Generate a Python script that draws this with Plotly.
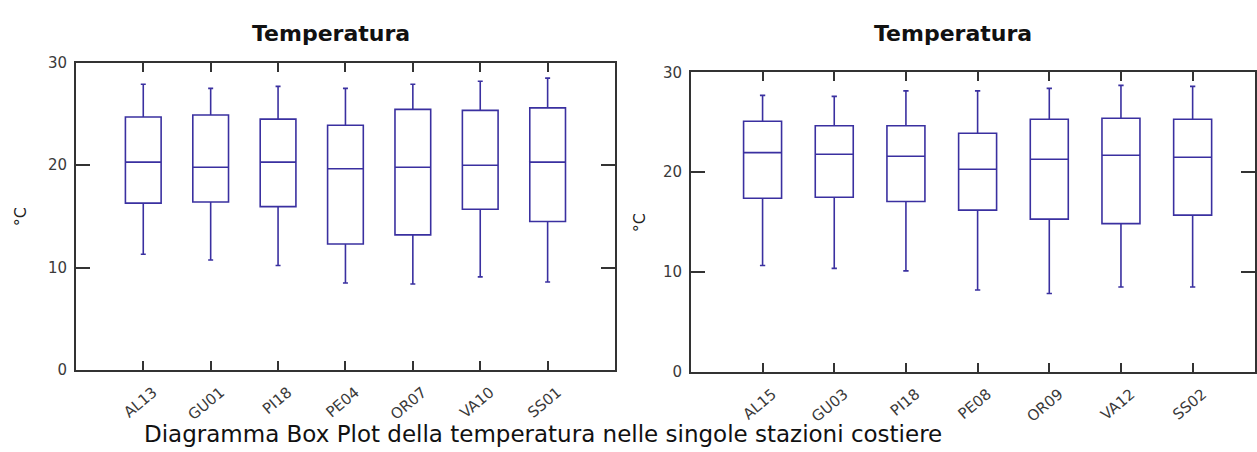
import plotly.graph_objects as go

# ---- data ----
stations_left = ["AL13", "GU01", "PI18", "PE04", "OR07", "VA10", "SS01"]
low_left = [11.3, 10.75, 10.2, 8.5, 8.4, 9.1, 8.6]
q1_left = [16.3, 16.4, 15.95, 12.3, 13.2, 15.7, 14.5]
med_left = [20.3, 19.8, 20.3, 19.65, 19.8, 20.0, 20.3]
q3_left = [24.7, 24.9, 24.5, 23.9, 25.45, 25.35, 25.6]
high_left = [27.9, 27.5, 27.7, 27.5, 27.9, 28.2, 28.5]

stations_right = ["AL15", "GU03", "PI18", "PE08", "OR09", "VA12", "SS02"]
low_right = [10.66, 10.37, 10.12, 8.2, 7.85, 8.5, 8.5]
q1_right = [17.4, 17.5, 17.07, 16.2, 15.3, 14.85, 15.7]
med_right = [21.96, 21.8, 21.6, 20.3, 21.3, 21.7, 21.5]
q3_right = [25.1, 24.65, 24.65, 23.9, 25.3, 25.4, 25.3]
high_right = [27.7, 27.6, 28.15, 28.15, 28.4, 28.7, 28.6]

y_ticks = [0, 10, 20, 30]
title_text = "Temperatura"
y_label = "°C"
caption = "Diagramma Box Plot della temperatura nelle singole stazioni costiere"

W, H = 1257, 452
BOX_COLOR = "#3a30a0"
AX_COLOR = "#333333"

pos_left = list(range(1, len(stations_left) + 1))
pos_right = list(range(1, len(stations_right) + 1))

fig = go.Figure()

def add_box(pos, lo, q1, med, q3, hi, xa, ya):
    fig.add_trace(go.Box(
        x=pos, lowerfence=lo, q1=q1, median=med, q3=q3, upperfence=hi,
        xaxis=xa, yaxis=ya, width=0.53, whiskerwidth=0.14,
        fillcolor="rgba(0,0,0,0)", line=dict(color=BOX_COLOR, width=1.6),
        boxpoints=False, showlegend=False, hoverinfo="skip",
    ))

add_box(pos_left, low_left, q1_left, med_left, q3_left, high_left, "x", "y")
add_box(pos_right, low_right, q1_right, med_right, q3_right, high_right, "x2", "y2")

def px_x(v):
    return v / W

def px_y(v):
    return 1 - v / H

tick_font = dict(family="DejaVu Sans", size=15, color="#3a3a3a")

common_x = dict(
    showgrid=False, zeroline=False, showline=True, linecolor=AX_COLOR, linewidth=1.5,
    mirror="ticks", ticks="inside", ticklen=9, tickcolor=AX_COLOR, tickwidth=1.5,
    tickangle=-40, tickfont=tick_font, tickmode="array",
    ticklabelstandoff=6, ticklabelshift=10,
)
common_y = dict(
    showgrid=False, zeroline=False, showline=True, linecolor=AX_COLOR, linewidth=1.5,
    mirror="ticks", ticks="inside", ticklen=14, tickcolor=AX_COLOR, tickwidth=1.5,
    tickfont=dict(family="DejaVu Sans", size=15, color="#3a3a3a"),
    tickmode="array", tickvals=y_ticks, range=[0, 30], ticklabelstandoff=4,
)

fig.update_layout(
    width=W, height=H, margin=dict(l=0, r=0, t=0, b=0),
    paper_bgcolor="white", plot_bgcolor="white",
    xaxis=dict(common_x, domain=[px_x(76), px_x(616)], range=[0, 8],
               tickvals=pos_left, ticktext=stations_left, anchor="y"),
    yaxis=dict(common_y, domain=[px_y(376), px_y(56)], anchor="x"),
    xaxis2=dict(common_x, domain=[px_x(692), 1.0], range=[0, 7.87],
                tickvals=pos_right, ticktext=stations_right, anchor="y2"),
    yaxis2=dict(common_y, domain=[px_y(378), px_y(66)], anchor="x2"),
)

ann = []
for cx in (332, 955):
    ann.append(dict(text=title_text, x=px_x(cx), y=px_y(25), xref="paper", yref="paper",
                    xanchor="center", yanchor="middle", showarrow=False,
                    font=dict(family="DejaVu Sans", size=22, color="#111111", weight="bold")))
for cx, cy in ((20, 216), (640, 222)):
    ann.append(dict(text=y_label, x=px_x(cx), y=px_y(cy), xref="paper", yref="paper",
                    xanchor="center", yanchor="middle", showarrow=False, textangle=-90,
                    font=dict(family="DejaVu Sans", size=16, color="#222222")))
ann.append(dict(text=caption, x=px_x(142), y=px_y(443), xref="paper", yref="paper",
                xanchor="left", yanchor="middle", showarrow=False,
                font=dict(family="DejaVu Sans", size=23, color="#111111")))
fig.update_layout(annotations=ann)

fig.write_html("out.html")
